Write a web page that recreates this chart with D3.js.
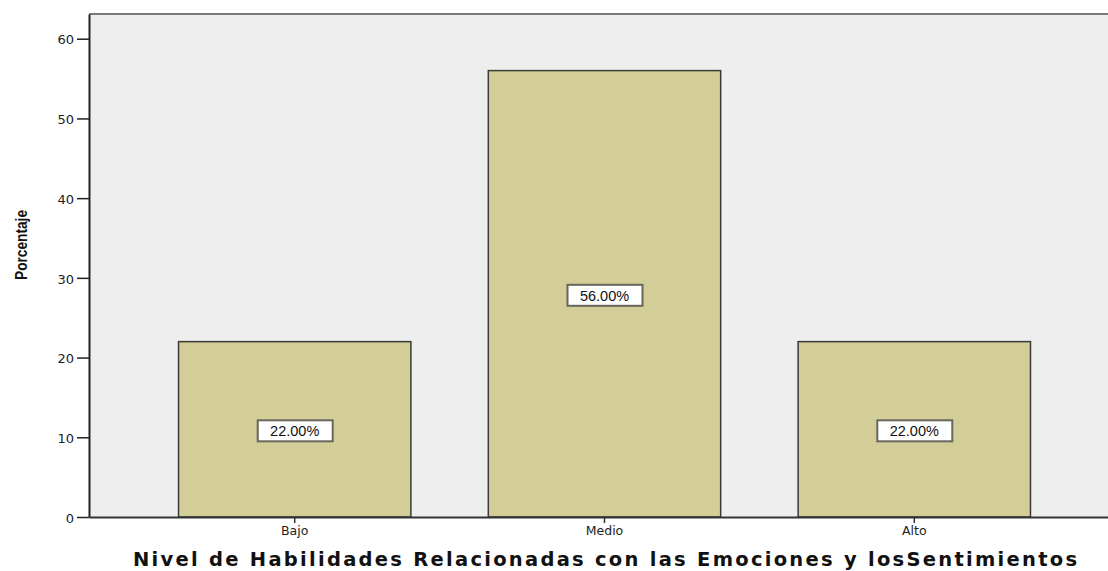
<!DOCTYPE html>
<html>
<head>
<meta charset="utf-8">
<script src="https://cdn.jsdelivr.net/npm/d3@7"></script>
<style>
  body { margin: 0; background: #fff; }
  text { font-family: "Liberation Sans", Arial, sans-serif; }
</style>
</head>
<body>
<div id="chart"></div>
<script>
// chart values
var categories = ["Bajo", "Medio", "Alto"]
var percents = [22, 56, 22]
var labels = ["22.00%", "56.00%", "22.00%"]
var yTicks = [0, 10, 20, 30, 40, 50, 60]

var W = 1108, H = 571
var margin = {top: 14, right: -12, bottom: 54, left: 89}
var width = W - margin.left - margin.right
var height = H - margin.top - margin.bottom

var svg = d3.select("#chart").append("svg")
  .attr("width", W)
  .attr("height", H)

var g = svg.append("g")
  .attr("transform", "translate(" + margin.left + "," + margin.top + ")")

var x = d3.scaleBand()
  .domain(categories)
  .range([0, width])
  .paddingInner(0.25)
  .paddingOuter(0.289)

var y = d3.scaleLinear()
  .domain([0, 63.1])
  .range([height, 0])

// plot background
g.append("rect")
  .attr("x", 0).attr("y", 0)
  .attr("width", width).attr("height", height)
  .attr("fill", "#eeeeee")

// top border
g.append("line")
  .attr("x1", 0).attr("x2", width)
  .attr("y1", 0).attr("y2", 0)
  .attr("stroke", "#7a7a7a")
  .attr("stroke-width", 2)

// bars
g.selectAll(".bar")
  .data(percents)
  .enter()
  .append("rect")
  .attr("class", "bar")
  .attr("x", function(d, i) { return x(categories[i]) })
  .attr("y", function(d) { return y(d) })
  .attr("width", x.bandwidth())
  .attr("height", function(d) { return height - y(d) })
  .attr("fill", "#d3ce98")
  .attr("stroke", "#3a3a36")
  .attr("stroke-width", 1.5)

// value labels in boxes
var lab = g.selectAll(".lab")
  .data(percents)
  .enter()
  .append("g")
  .attr("transform", function(d, i) {
    return "translate(" + (x(categories[i]) + x.bandwidth() / 2) + "," + y(d / 2) + ")"
  })

lab.append("rect")
  .attr("x", -37).attr("y", -9)
  .attr("width", 75).attr("height", 21)
  .attr("fill", "#ffffff")
  .attr("stroke", "#66665c")
  .attr("stroke-width", 2)

lab.append("text")
  .attr("text-anchor", "middle")
  .attr("y", 7)
  .attr("font-size", 14.5)
  .attr("fill", "#111")
  .text(function(d, i) { return labels[i] })

// y axis
var yAxis = g.append("g")
  .call(d3.axisLeft(y).tickValues(yTicks).tickSize(12).tickSizeOuter(0).tickPadding(3))
yAxis.select(".domain").attr("stroke", "#222").attr("stroke-width", 2)
yAxis.selectAll(".tick line").attr("stroke", "#222").attr("stroke-width", 1.5)
yAxis.selectAll("text")
  .attr("font-size", 13)
  .attr("fill", "#222")
  .style("font-family", "DejaVu Sans, sans-serif")
  .attr("dy", "0.4em")

// x axis
var xAxis = g.append("g")
  .attr("transform", "translate(0," + height + ")")
  .call(d3.axisBottom(x).tickSize(6).tickSizeOuter(0).tickPadding(3))
xAxis.select(".domain").attr("stroke", "#333").attr("stroke-width", 2)
xAxis.selectAll(".tick line").attr("stroke", "#333").attr("stroke-width", 1.5)
xAxis.selectAll("text")
  .attr("font-size", 12.5)
  .attr("fill", "#222")
  .style("font-family", "DejaVu Sans, sans-serif")

// axis titles
svg.append("text")
  .attr("x", 605)
  .attr("y", 566)
  .attr("text-anchor", "middle")
  .attr("font-size", 19.5)
  .attr("font-weight", "bold")
  .attr("fill", "#111")
  .attr("textLength", 944)
  .attr("lengthAdjust", "spacing")
  .style("font-family", "DejaVu Sans, sans-serif")
  .text("Nivel de Habilidades Relacionadas  con las Emociones y losSentimientos")

svg.append("text")
  .attr("transform", "translate(27,245) rotate(-90)")
  .attr("text-anchor", "middle")
  .attr("font-size", 17)
  .attr("font-weight", "bold")
  .attr("fill", "#111")
  .attr("textLength", 70)
  .attr("lengthAdjust", "spacingAndGlyphs")
  .text("Porcentaje")
</script>
</body>
</html>
